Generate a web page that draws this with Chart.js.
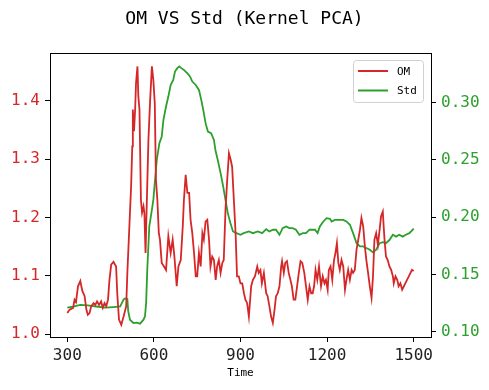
<!DOCTYPE html>
<html>
<head>
<meta charset="utf-8">
<script src="https://cdn.jsdelivr.net/npm/chart.js@4"></script>
<style>
  body { margin: 0; background: #fff; }
</style>
</head>
<body>
<canvas id="chart" width="489" height="390"></canvas>
<script>
// data
const omTime = [300,308,320,325,330,337,345,352,360,366,371,377,383,391,397,403,410,417,423,429,435,441,446,452,460,469,473,479,487,495,
  504,508,515,521,525,527,531,535,538,543,546,550,555,559,564,567,571,575,581,587,593,598,603,607,612,617,621,627,635,642,
  650,658,665,671,679,685,693,700,704,710,716,722,727,733,739,745,750,756,762,768,773,779,785,791,796,802,808,814,819,825,
  831,837,842,848,854,860,866,871,877,883,888,894,900,906,912,917,923,929,937,943,950,958,963,969,974,981,989,994,1000,1006,
  1012,1018,1023,1029,1035,1041,1044,1050,1055,1061,1067,1073,1078,1084,1090,1096,1102,1108,1114,1121,1127,1133,1139,1145,1150,1155,1160,1166,1172,1179,
  1185,1191,1196,1202,1206,1212,1218,1224,1229,1234,1239,1244,1250,1256,1262,1267,1273,1279,1285,1290,1296,1302,1308,1314,1319,1325,1331,1336,1342,1348,
  1354,1359,1364,1370,1376,1382,1387,1393,1396,1399,1404,1410,1416,1422,1428,1431,1437,1443,1448,1454,1460,1466,1471,1477,1483,1489,1494,1500];
const omValue = [1.036,1.042,1.045,1.059,1.055,1.082,1.091,1.074,1.065,1.042,1.033,1.036,1.048,1.053,1.050,1.056,1.050,1.056,1.045,1.053,1.048,1.059,1.093,1.119,1.124,1.116,1.070,1.025,1.016,1.030,
  1.048,1.105,1.185,1.253,1.322,1.385,1.348,1.385,1.430,1.459,1.408,1.385,1.230,1.208,1.219,1.208,1.139,1.219,1.333,1.402,1.459,1.436,1.396,1.265,1.230,1.173,1.162,1.122,1.116,1.110,
  1.168,1.139,1.162,1.133,1.082,1.116,1.127,1.185,1.230,1.273,1.242,1.242,1.196,1.173,1.139,1.099,1.099,1.139,1.116,1.173,1.162,1.193,1.196,1.162,1.116,1.133,1.127,1.093,1.116,1.127,
  1.105,1.122,1.127,1.213,1.265,1.310,1.299,1.287,1.230,1.173,1.099,1.099,1.087,1.087,1.070,1.059,1.053,1.030,1.082,1.093,1.099,1.116,1.105,1.110,1.087,1.105,1.070,1.065,1.048,1.030,
  1.019,1.042,1.065,1.070,1.082,1.116,1.125,1.105,1.122,1.125,1.105,1.093,1.082,1.059,1.059,1.082,1.105,1.125,1.122,1.105,1.082,1.059,1.082,1.070,1.070,1.082,1.110,1.093,1.116,1.082,
  1.099,1.087,1.093,1.076,1.110,1.116,1.093,1.127,1.139,1.156,1.122,1.110,1.127,1.116,1.076,1.093,1.110,1.093,1.110,1.105,1.110,1.145,1.162,1.179,1.199,1.185,1.150,1.127,1.105,1.082,
  1.062,1.099,1.162,1.173,1.153,1.179,1.202,1.210,1.185,1.162,1.133,1.127,1.116,1.110,1.099,1.087,1.099,1.093,1.082,1.087,1.076,1.082,1.087,1.093,1.099,1.105,1.110,1.108];

const stdTime = [300,320,345,370,400,430,460,483,495,500,508,511,517,529,540,552,564,569,573,577,584,593,598,604,610,619,627,633,642,650,
  658,667,673,681,688,695,704,716,725,733,745,756,764,771,779,787,798,808,813,821,831,840,848,856,865,874,886,900,911,929,
  943,960,975,989,1000,1012,1023,1035,1046,1058,1069,1081,1092,1104,1116,1127,1139,1147,1158,1167,1175,1187,1198,1210,1216,1227,1239,1256,1267,1279,
  1290,1302,1314,1325,1336,1348,1359,1370,1382,1393,1404,1416,1428,1439,1450,1462,1473,1485,1497,1500];
const stdValue = [0.121,0.122,0.1235,0.123,0.122,0.121,0.1215,0.122,0.128,0.129,0.1285,0.118,0.1105,0.1076,0.108,0.107,0.1105,0.1134,0.125,0.154,0.192,0.2064,0.215,0.2325,0.25,0.2645,0.270,0.2848,0.2965,0.3052,
  0.3153,0.3197,0.327,0.330,0.3314,0.330,0.3284,0.3255,0.3227,0.3183,0.3153,0.311,0.3023,0.2935,0.282,0.2747,0.2733,0.2674,0.2587,0.25,0.2384,0.2268,0.2151,0.2035,0.1948,0.1875,0.186,0.1846,0.186,0.1875,
  0.186,0.1875,0.186,0.1895,0.1875,0.189,0.189,0.1846,0.1904,0.1919,0.1904,0.1904,0.189,0.1846,0.186,0.186,0.189,0.189,0.189,0.186,0.1919,0.1962,0.1991,0.1985,0.1962,0.1976,0.1976,0.1976,0.1962,0.1933,
  0.186,0.1773,0.1745,0.1745,0.173,0.1715,0.1692,0.1715,0.1773,0.1782,0.1773,0.180,0.1846,0.183,0.1846,0.183,0.1846,0.186,0.189,0.190];

const xTicks = [300, 600, 900, 1200, 1500];
const omTicks = [1.0, 1.1, 1.2, 1.3, 1.4];
const stdTicks = [0.10, 0.15, 0.20, 0.25, 0.30];

const RED = '#d62728';
const GREEN = '#2ca02c';
const MONO = "'DejaVu Sans Mono', monospace";

function pairs(xs, ys) {
    return xs.map((x, i) => ({x: x, y: ys[i]}));
}

// box round the plot area (top and right spines)
const frame = {
    id: 'frame',
    afterDatasetsDraw(chart) {
        const a = chart.chartArea;
        const ctx = chart.ctx;
        ctx.save();
        ctx.strokeStyle = '#000';
        ctx.lineWidth = 1;
        ctx.strokeRect(Math.round(a.left) + 0.5, Math.round(a.top) + 0.5,
            Math.round(a.right - a.left), Math.round(a.bottom - a.top));
        ctx.restore();
    }
};

// legend inside the plot, top right
const innerLegend = {
    id: 'innerLegend',
    afterDraw(chart) {
        const ctx = chart.ctx;
        const a = chart.chartArea;
        const x = a.right - 78, y = a.top + 7.5, w = 70, h = 42;
        ctx.save();
        ctx.fillStyle = 'rgba(255,255,255,0.8)';
        ctx.strokeStyle = '#d0d0d0';
        ctx.lineWidth = 1;
        ctx.beginPath();
        ctx.roundRect(x + 0.5, y, w, h, 3);
        ctx.fill();
        ctx.stroke();
        ctx.font = '11px ' + MONO;
        ctx.textBaseline = 'middle';
        chart.data.datasets.forEach((ds, i) => {
            const ly = y + 10.5 + i * 19.5;
            ctx.strokeStyle = ds.borderColor;
            ctx.lineWidth = 2;
            ctx.beginPath();
            ctx.moveTo(x + 5, ly);
            ctx.lineTo(x + 35, ly);
            ctx.stroke();
            ctx.fillStyle = '#000';
            ctx.fillText(ds.label, x + 44, ly + 1);
        });
        ctx.restore();
    }
};

const ctx = document.getElementById('chart').getContext('2d');
const chart = new Chart(ctx, {
    type: 'line',
    data: {
        datasets: [
            {
                label: 'OM',
                data: pairs(omTime, omValue),
                borderColor: RED,
                borderWidth: 1.8,
                pointRadius: 0,
                yAxisID: 'y'
            },
            {
                label: 'Std',
                data: pairs(stdTime, stdValue),
                borderColor: GREEN,
                borderWidth: 1.8,
                pointRadius: 0,
                yAxisID: 'y1'
            }
        ]
    },
    options: {
        responsive: false,
        animation: false,
        devicePixelRatio: 1,
        layout: { padding: 0 },
        plugins: {
            legend: { display: false },
            tooltip: { enabled: false },
            title: {
                display: true,
                text: 'OM VS Std (Kernel PCA)',
                color: '#000',
                font: { family: MONO, size: 18, weight: 'normal' },
                padding: { top: 9, bottom: 22.4 }
            }
        },
        scales: {
            x: {
                type: 'linear',
                position: 'bottom',
                min: 240,
                max: 1560,
                afterBuildTicks: s => { s.ticks = xTicks.map(v => ({value: v})); },
                afterFit: s => { s.height = 53; },
                ticks: {
                    color: '#222',
                    font: { family: MONO, size: 16 },
                    padding: 4,
                    maxRotation: 0,
                    autoSkip: false,
                    callback: v => String(v)
                },
                grid: { drawOnChartArea: false, tickLength: 5, color: '#000' },
                border: { color: '#000' },
                title: {
                    display: true,
                    text: 'Time',
                    color: '#000',
                    font: { family: MONO, size: 11 },
                    padding: { top: 0, bottom: 10 }
                }
            },
            y: {
                position: 'left',
                min: 0.995,
                max: 1.482,
                afterBuildTicks: s => { s.ticks = omTicks.map(v => ({value: v})); },
                afterFit: s => { s.width = 50; },
                ticks: {
                    color: RED,
                    font: { family: MONO, size: 16 },
                    padding: 5,
                    callback: v => v.toFixed(1)
                },
                grid: { drawOnChartArea: false, tickLength: 5, color: '#000' },
                border: { color: '#000' }
            },
            y1: {
                position: 'right',
                min: 0.0954,
                max: 0.3432,
                afterBuildTicks: s => { s.ticks = stdTicks.map(v => ({value: v})); },
                afterFit: s => { s.width = 58; },
                ticks: {
                    color: GREEN,
                    font: { family: MONO, size: 16 },
                    padding: 5,
                    callback: v => v.toFixed(2)
                },
                grid: { drawOnChartArea: false, tickLength: 5, color: '#000' },
                border: { color: '#000' }
            }
        }
    },
    plugins: [frame, innerLegend]
});
</script>
</body>
</html>
